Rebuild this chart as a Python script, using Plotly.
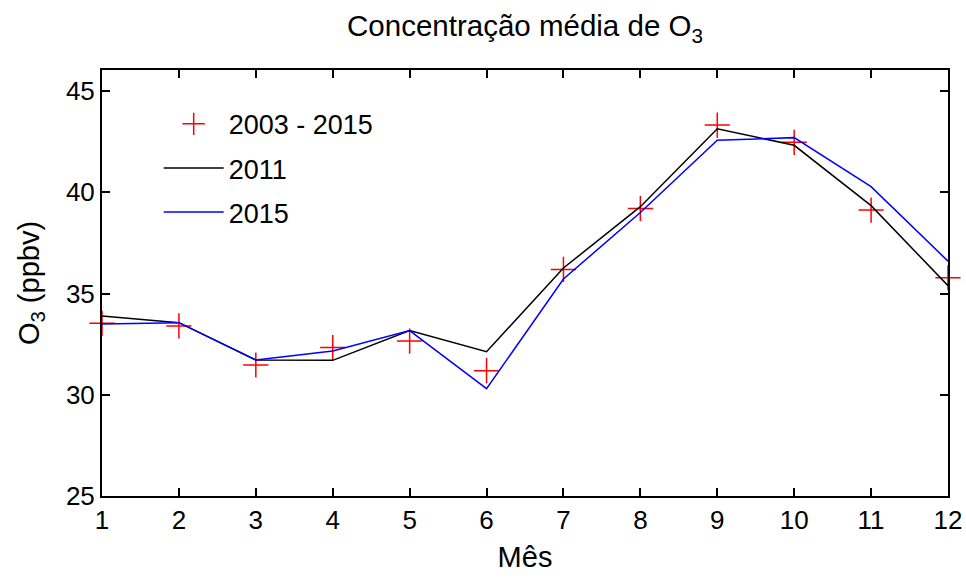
import plotly.graph_objects as go

months = list(range(1, 13))
o3_2003_2015 = [33.53, 33.40, 31.47, 32.33, 32.65, 31.19, 36.19, 39.20, 43.32, 42.47, 39.12, 35.78]
o3_2011 = [33.89, 33.56, 31.72, 31.70, 33.17, 32.13, 36.26, 39.29, 43.14, 42.32, 39.34, 35.39]
o3_2015 = [33.49, 33.56, 31.72, 32.16, 33.17, 30.30, 35.72, 39.00, 42.57, 42.70, 40.28, 36.60]

FONT = "Liberation Sans, Arial, sans-serif"

fig = go.Figure()
fig.add_trace(go.Scatter(
    x=months, y=o3_2003_2015, name="2003 - 2015", mode="markers",
    marker=dict(symbol="cross-thin", size=18, color="red",
                line=dict(color="red", width=1.5)),
    cliponaxis=False, legendgroup="a",
))
fig.add_trace(go.Scatter(
    x=months, y=o3_2011, name="2011", mode="lines",
    line=dict(color="black", width=1.5), legendgroup="b",
))
fig.add_trace(go.Scatter(
    x=months, y=o3_2015, name="2015", mode="lines",
    line=dict(color="#0000ff", width=1.5), legendgroup="c",
))

axis_common = dict(
    showline=True, linecolor="black", linewidth=2, mirror="ticks",
    ticks="inside", ticklen=8, tickwidth=2, tickcolor="black",
    showgrid=False, zeroline=False,
    tickfont=dict(family=FONT, size=26, color="black"),
)

fig.update_layout(
    width=966, height=579,
    paper_bgcolor="white", plot_bgcolor="white",
    margin=dict(l=102, r=18, t=70, b=83),
    font=dict(family=FONT, color="black"),
    title=dict(text="Concentração média de O<sub>3</sub>", x=0.5, xref="paper",
               y=0.955, yanchor="middle",
               font=dict(family=FONT, size=29.5, color="black")),
    xaxis=dict(range=[1, 12], tickvals=months, ticktext=[str(m) for m in months],
               title=dict(text="Mês", font=dict(family=FONT, size=29), standoff=12),
               automargin=False, **axis_common),
    yaxis=dict(range=[25, 46.04], tickvals=[25, 30, 35, 40, 45],
               title=dict(text="O<sub>3</sub> (ppbv)", font=dict(family=FONT, size=29), standoff=18),
               automargin=False, **axis_common),
    legend=dict(x=0.067, y=0.93, xanchor="left", yanchor="top",
                bgcolor="rgba(0,0,0,0)", borderwidth=0,
                font=dict(family=FONT, size=27, color="black"),
                tracegroupgap=6, itemwidth=60),
    showlegend=True,
)

fig.write_html("out.html")
